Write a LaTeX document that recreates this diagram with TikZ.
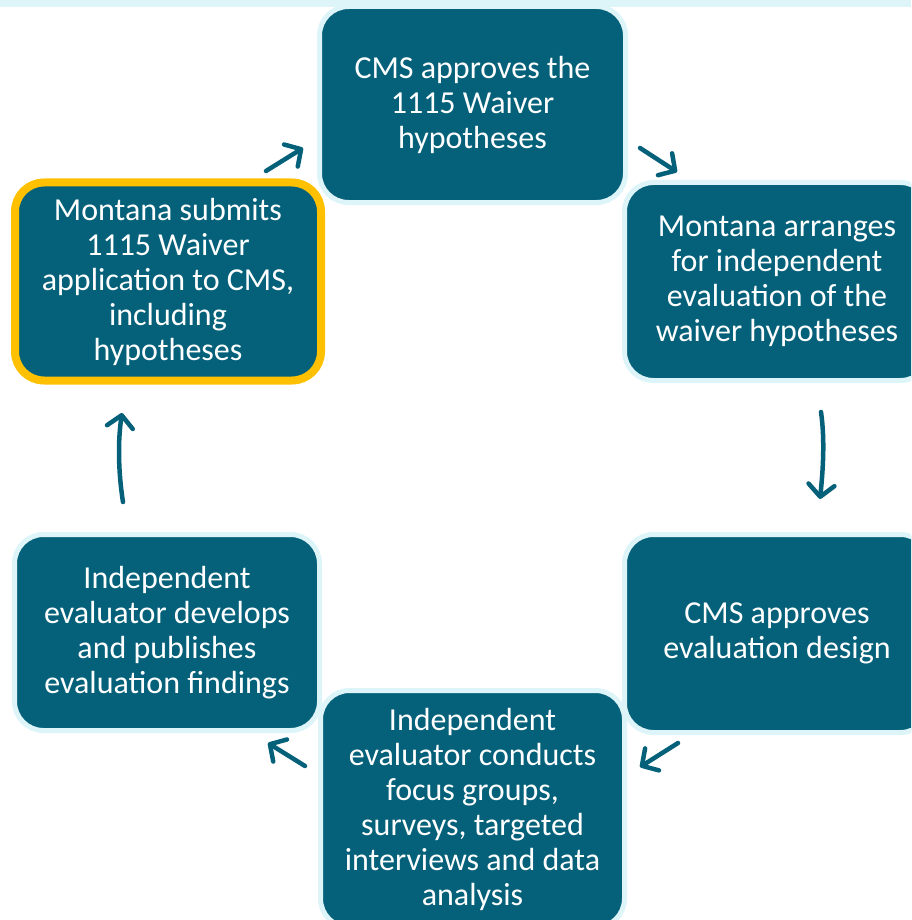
\documentclass[tikz,border=0pt]{standalone}
\usepackage{fontspec}
\setmainfont{Carlito}
\usetikzlibrary{arrows.meta}
\definecolor{tealc}{HTML}{05617A}
\definecolor{lightc}{HTML}{DDF4F8}
\definecolor{goldc}{HTML}{FFC000}
\begin{document}
\begin{tikzpicture}[x=1pt,y=-1pt,
  box/.style={rectangle, rounded corners=29pt, fill=tealc, draw=lightc, line width=5pt,
    text=white, align=center, font=\fontsize{32}{35}\selectfont, inner sep=0pt},
  startbox/.style={box, draw=goldc, line width=8pt},
  flow/.style={draw=tealc, line width=4.5pt, line cap=round,
    -{Straight Barb[length=12pt,width=26pt,round]}}]
\useasboundingbox (0,0) rectangle (911,920);
\clip (0,0) rectangle (911,920);
\fill[lightc] (0,0) rectangle (911,7.3);

\node[box, minimum width=306pt, minimum height=196pt] (b1) at (472.5,104.5)
  {CMS approves the\\1115 Waiver\\hypotheses};
\node[box, minimum width=305pt, minimum height=198pt] (b2) at (777,281.5)
  {Montana arranges\\for independent\\evaluation of the\\waiver hypotheses};
\node[box, minimum width=305pt, minimum height=198pt] (b3) at (777,633.5)
  {CMS approves\\evaluation design};
\node[box, minimum width=304pt, minimum height=237pt] (b4) at (472.5,809)
  {Independent\\evaluator conducts\\focus groups,\\surveys, targeted\\interviews and data\\analysis};
\node[box, minimum width=305pt, minimum height=196pt] (b5) at (167,632.5)
  {Independent\\evaluator develops\\and publishes\\evaluation findings};
\node[startbox, minimum width=306pt, minimum height=198pt] (b6) at (168,281.5)
  {Montana submits\\1115 Waiver\\application to CMS,\\including\\hypotheses};

\coordinate (a1s) at (266,171);  \coordinate (a1e) at (303,148);
\coordinate (a2s) at (640,148);  \coordinate (a2e) at (677,172);
\coordinate (a3s) at (821,412);  \coordinate (a3e) at (820,499);
\coordinate (a4s) at (678,743);  \coordinate (a4e) at (640,767);
\coordinate (a5s) at (305,766);  \coordinate (a5e) at (268,743);
\coordinate (a6s) at (123,502);  \coordinate (a6e) at (122,413);

\draw[flow] (a1s) -- (a1e);
\draw[flow] (a2s) -- (a2e);
\draw[flow] (a3s) .. controls (825,440) and (823,470) .. (a3e);
\draw[flow] (a4s) -- (a4e);
\draw[flow] (a5s) -- (a5e);
\draw[flow] (a6s) .. controls (118,470) and (118,440) .. (a6e);
\end{tikzpicture}
\end{document}
